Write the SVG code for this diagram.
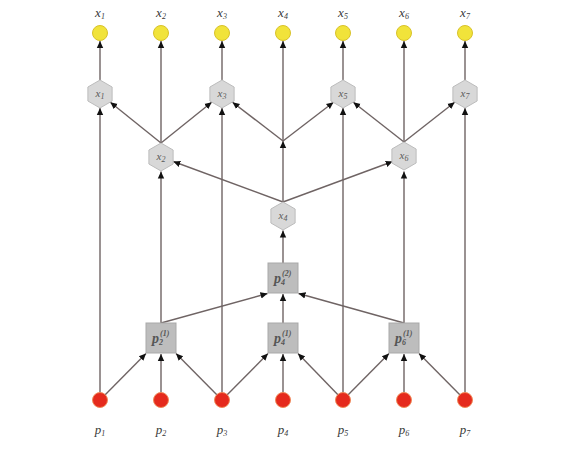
<svg xmlns="http://www.w3.org/2000/svg" width="568" height="451" viewBox="0 0 568 451">
  <defs>
    <marker id="arr" markerUnits="userSpaceOnUse" markerWidth="8" markerHeight="8" refX="7" refY="4" orient="auto">
      <path d="M0,0.8 L7,4 L0,7.2 Z" fill="#111"/>
    </marker>
    <polygon id="hex" points="0,-14 12.1,-7 12.1,7 0,14 -12.1,7 -12.1,-7"/>
  </defs>
  <style>
    .e { stroke: #6f6464; stroke-width: 1.4; fill: none; marker-end: url(#arr); }
    .hx { fill: #d8d8d8; stroke: #bcbcbc; stroke-width: 1; }
    .sq { fill: #bdbdbd; stroke: #a9a9a9; stroke-width: 1; }
    .out { fill: #f1e33a; stroke: #d8c22a; stroke-width: 1; }
    .in { fill: #e52a1d; stroke: #f08a5a; stroke-width: 1; }
    .lbl { font-family: "Liberation Serif", serif; font-style: italic; font-size: 13px; fill: #3a3a3a; text-anchor: middle; }
    .hl { font-family: "Liberation Serif", serif; font-style: italic; font-size: 11px; fill: #5a5a5a; text-anchor: middle; }
    .sl { font-family: "Liberation Serif", serif; font-style: italic; font-weight: bold; font-size: 14px; fill: #555555; }
    .sub { font-size: 8px; }
  </style>
  <rect width="568" height="451" fill="#ffffff"/>

  <g id="connectors">
    <!-- inputs to first aggregation layer -->
    <line class="e" x1="100" y1="400" x2="146" y2="353.5"/>
    <line class="e" x1="161" y1="400" x2="161" y2="354"/>
    <line class="e" x1="222" y1="400" x2="176" y2="353.5"/>
    <line class="e" x1="222" y1="400" x2="268" y2="353.5"/>
    <line class="e" x1="283" y1="400" x2="283" y2="354"/>
    <line class="e" x1="343" y1="400" x2="298" y2="353.5"/>
    <line class="e" x1="343" y1="400" x2="389" y2="353.5"/>
    <line class="e" x1="404" y1="400" x2="404" y2="354"/>
    <line class="e" x1="465" y1="400" x2="419" y2="353.5"/>
    <!-- odd inputs straight to reconstructions -->
    <line class="e" x1="100" y1="400" x2="100" y2="108"/>
    <line class="e" x1="222" y1="400" x2="222" y2="108"/>
    <line class="e" x1="343" y1="400" x2="343" y2="108"/>
    <line class="e" x1="465" y1="400" x2="465" y2="108"/>
    <!-- second aggregation layer -->
    <line class="e" x1="161" y1="323" x2="267.5" y2="293.5"/>
    <line class="e" x1="283" y1="323" x2="283" y2="294"/>
    <line class="e" x1="404" y1="323" x2="298.5" y2="293.5"/>
    <line class="e" x1="283" y1="263" x2="283" y2="230.5"/>
    <line class="e" x1="161" y1="323" x2="161" y2="171.5"/>
    <line class="e" x1="404" y1="323" x2="404" y2="171.5"/>
    <!-- x4 to x2 / x6 -->
    <line class="e" x1="283" y1="202" x2="173.3" y2="161.5"/>
    <line class="e" x1="283" y1="202" x2="392.7" y2="161.5"/>
    <!-- x4 up to junction -->
    <line class="e" x1="283" y1="202" x2="283" y2="141"/>
    <!-- fan-out to odd reconstructions -->
    <line class="e" x1="161" y1="143" x2="110.3" y2="102.2"/>
    <line class="e" x1="161" y1="143" x2="211.7" y2="102.2"/>
    <line class="e" x1="283" y1="141" x2="232.5" y2="102.2"/>
    <line class="e" x1="283" y1="141" x2="333.5" y2="102.2"/>
    <line class="e" x1="404" y1="142" x2="353.3" y2="102.2"/>
    <line class="e" x1="404" y1="142" x2="454.7" y2="102.2"/>
    <!-- to outputs -->
    <line class="e" x1="100" y1="80" x2="100" y2="41"/>
    <line class="e" x1="161" y1="143" x2="161" y2="41"/>
    <line class="e" x1="222" y1="80" x2="222" y2="41"/>
    <line class="e" x1="283" y1="141" x2="283" y2="41"/>
    <line class="e" x1="343" y1="80" x2="343" y2="41"/>
    <line class="e" x1="404" y1="142" x2="404" y2="41"/>
    <line class="e" x1="465" y1="80" x2="465" y2="41"/>
  </g>

  <!-- output nodes -->
  <g id="out1"><circle class="out" cx="100" cy="33" r="7.5"/><text class="lbl" x="100" y="17">x<tspan class="sub" dy="2">1</tspan></text></g>
  <g id="out2"><circle class="out" cx="161" cy="33" r="7.5"/><text class="lbl" x="161" y="17">x<tspan class="sub" dy="2">2</tspan></text></g>
  <g id="out3"><circle class="out" cx="222" cy="33" r="7.5"/><text class="lbl" x="222" y="17">x<tspan class="sub" dy="2">3</tspan></text></g>
  <g id="out4"><circle class="out" cx="283" cy="33" r="7.5"/><text class="lbl" x="283" y="17">x<tspan class="sub" dy="2">4</tspan></text></g>
  <g id="out5"><circle class="out" cx="343" cy="33" r="7.5"/><text class="lbl" x="343" y="17">x<tspan class="sub" dy="2">5</tspan></text></g>
  <g id="out6"><circle class="out" cx="404" cy="33" r="7.5"/><text class="lbl" x="404" y="17">x<tspan class="sub" dy="2">6</tspan></text></g>
  <g id="out7"><circle class="out" cx="465" cy="33" r="7.5"/><text class="lbl" x="465" y="17">x<tspan class="sub" dy="2">7</tspan></text></g>

  <!-- hexagon reconstruction nodes -->
  <g id="hx1"><use href="#hex" class="hx" x="100" y="94"/><text class="hl" x="100" y="97">x<tspan class="sub" dy="2">1</tspan></text></g>
  <g id="hx3"><use href="#hex" class="hx" x="222" y="94"/><text class="hl" x="222" y="97">x<tspan class="sub" dy="2">3</tspan></text></g>
  <g id="hx5"><use href="#hex" class="hx" x="343" y="94"/><text class="hl" x="343" y="97">x<tspan class="sub" dy="2">5</tspan></text></g>
  <g id="hx7"><use href="#hex" class="hx" x="465" y="94"/><text class="hl" x="465" y="97">x<tspan class="sub" dy="2">7</tspan></text></g>
  <g id="hx2"><use href="#hex" class="hx" x="161" y="157"/><text class="hl" x="161" y="160">x<tspan class="sub" dy="2">2</tspan></text></g>
  <g id="hx6"><use href="#hex" class="hx" x="404" y="156"/><text class="hl" x="404" y="159">x<tspan class="sub" dy="2">6</tspan></text></g>
  <g id="hx4"><use href="#hex" class="hx" x="283" y="216"/><text class="hl" x="283" y="219">x<tspan class="sub" dy="2">4</tspan></text></g>

  <!-- aggregation squares -->
  <g id="p4-2"><rect class="sq" x="268" y="263" width="30" height="30"/><text class="sl" x="274" y="283">p<tspan class="sub" dy="2">4</tspan><tspan class="sub" dx="-3" dy="-9">(2)</tspan></text></g>
  <g id="p2-1"><rect class="sq" x="146" y="323" width="30" height="30"/><text class="sl" x="152" y="343">p<tspan class="sub" dy="2">2</tspan><tspan class="sub" dx="-3" dy="-9">(1)</tspan></text></g>
  <g id="p4-1"><rect class="sq" x="268" y="323" width="30" height="30"/><text class="sl" x="274" y="343">p<tspan class="sub" dy="2">4</tspan><tspan class="sub" dx="-3" dy="-9">(1)</tspan></text></g>
  <g id="p6-1"><rect class="sq" x="389" y="323" width="30" height="30"/><text class="sl" x="395" y="343">p<tspan class="sub" dy="2">6</tspan><tspan class="sub" dx="-3" dy="-9">(1)</tspan></text></g>

  <!-- input nodes -->
  <g id="in1"><circle class="in" cx="100" cy="400" r="7.5"/><text class="lbl" x="100" y="434">p<tspan class="sub" dy="2">1</tspan></text></g>
  <g id="in2"><circle class="in" cx="161" cy="400" r="7.5"/><text class="lbl" x="161" y="434">p<tspan class="sub" dy="2">2</tspan></text></g>
  <g id="in3"><circle class="in" cx="222" cy="400" r="7.5"/><text class="lbl" x="222" y="434">p<tspan class="sub" dy="2">3</tspan></text></g>
  <g id="in4"><circle class="in" cx="283" cy="400" r="7.5"/><text class="lbl" x="283" y="434">p<tspan class="sub" dy="2">4</tspan></text></g>
  <g id="in5"><circle class="in" cx="343" cy="400" r="7.5"/><text class="lbl" x="343" y="434">p<tspan class="sub" dy="2">5</tspan></text></g>
  <g id="in6"><circle class="in" cx="404" cy="400" r="7.5"/><text class="lbl" x="404" y="434">p<tspan class="sub" dy="2">6</tspan></text></g>
  <g id="in7"><circle class="in" cx="465" cy="400" r="7.5"/><text class="lbl" x="465" y="434">p<tspan class="sub" dy="2">7</tspan></text></g>
</svg>
